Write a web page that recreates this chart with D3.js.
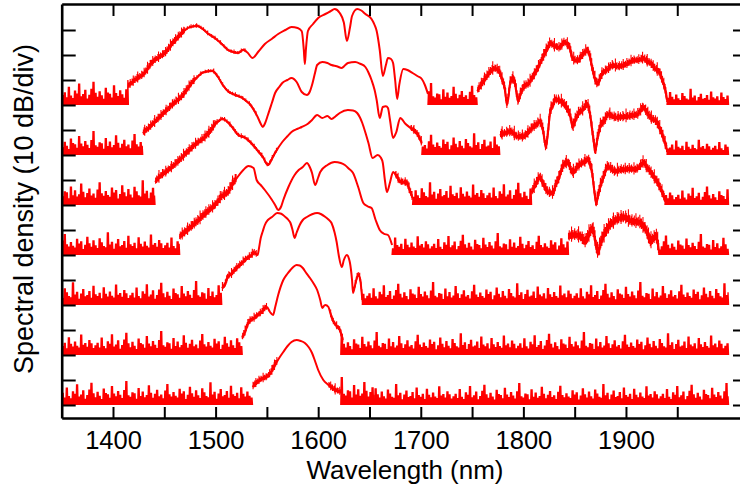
<!DOCTYPE html>
<html><head><meta charset="utf-8">
<script src="https://cdn.jsdelivr.net/npm/d3@7"></script>
<style>
html,body{margin:0;padding:0;background:#fff;}
svg{display:block;font-family:"Liberation Sans",Arial,Helvetica,sans-serif;}
</style></head>
<body>
<svg id="chart" width="740" height="489"></svg>
<script>
// ---------------- data ----------------
const xTicks = [1400,1450,1500,1550,1600,1650,1700,1750,1800,1850,1900,1950];
const xTickLabels = [1400,1500,1600,1700,1800,1900];
const yTicks = [0,10,20,30,40,50,60,70,80,90,100,110,120,130,140,150];
const traceOffsets = [120,100,80,60,40,20,0]; // dB, top to bottom (20 dB stacking)

// measured noise-floor heights (dB above floor), reused along floor regions
const noisePattern = [3.2,4.1,2.5,5.8,3.0,2.2,4.6,3.7,6.9,2.8,3.5,4.9,2.1,3.3,5.2,7.4,3.9,2.6,4.4,3.1,
2.0,5.5,4.0,3.6,2.4,6.3,3.8,2.9,4.7,3.4,2.3,5.0,8.0,3.2,2.7,4.2,3.9,2.1,5.7,3.0,4.5,2.6,3.3,6.6,4.1,
2.4,3.7,5.1,2.9,3.5,2.2,4.8,7.0,3.6,2.8,4.3,3.1,2.5,5.4,3.8,4.6,2.0,3.4,6.1,3.9,2.7,4.9,3.2,2.3,5.6,
4.2,3.0,2.6,7.6,3.5,4.4,2.1,3.8,5.3,2.9,3.3,4.7,2.4,6.4,3.6,3.0,4.1,2.2,5.9,3.7,2.8,4.5,3.1,2.5,6.8,
3.4,4.0,2.7,5.0,3.9,2.3];

// signal segments: [wavelength nm, dB above the trace's floor]
const trace1Signal = [
 [[1415,7.6],[1422,10],[1431,12.8],[1438,16.8],[1445,19],[1451,20.8],[1457,24],[1463,26.8],[1468,29],[1473,30.8],[1478,31.4],[1482,31.6],[1487,30.5],[1493,28.4],[1500,26.5],[1506,24.4],[1512,22],[1517,21.2],[1522,20.8],[1527,22],[1531,21],[1536,18.8],[1542,21.5],[1548,24.4],[1555,26.5],[1561,28.4],[1568,30],[1574,31.2],[1580,30.8],[1584,29.5],[1586,22],[1587,16.4],[1588,22],[1590,29.6],[1595,32.4],[1600,34.8],[1607,36.4],[1612,37.5],[1616,38.4],[1621,36.8],[1625,33],[1628,25.6],[1631,31],[1633,35.6],[1638,38.4],[1642,37.8],[1646,36.4],[1652,34.4],[1655,32],[1657,29.6],[1660,22],[1663,11.6],[1666,16],[1668,18.8],[1671,18.4],[1673,16.8],[1675,10],[1677,2.4],[1679,8],[1683,14.4],[1687,14],[1692,12.8],[1697,11.5],[1701,10.4],[1704,8],[1707,4.4]],
 [[1755,5.6],[1760,8.5],[1767,12.8],[1772,14.4],[1776,13.5],[1779,10.4],[1782,6],[1784,0.4],[1786,5],[1787,8.4],[1790,10.4],[1792,8],[1795,1.6],[1797,4],[1800,6.8],[1805,8.5],[1809,10.8],[1814,14.5],[1819,18.8],[1823,22],[1826,24.4],[1830,23.5],[1835,22.8],[1840,24.8],[1845,22.8],[1848,18.4],[1853,17.6],[1857,19.5],[1862,21.6],[1865,19],[1867,14.8],[1870,10],[1872,8.4],[1877,12.4],[1882,14],[1887,15.6],[1892,15.2],[1897,15.6],[1902,16.5],[1907,17.6],[1912,17.8],[1917,18.4],[1920,17.5],[1924,16.4],[1928,14.5],[1933,12.4],[1936,9],[1938,6.4],[1940,2]]
];
const trace2Signal = [
 [[1429,8.8],[1433,10],[1438,12],[1443,14],[1448,16],[1453,18],[1458,20],[1462,21.5],[1467,23.2],[1472,26],[1477,28.8],[1482,31],[1487,32.8],[1492,33.4],[1497,33.6],[1500,32.5],[1503,30.8],[1507,28],[1512,25.5],[1519,24],[1526,22.8],[1530,21.5],[1534,20],[1538,17.5],[1541,15.2],[1544,12.5],[1546,11.2],[1548,12.5],[1551,16],[1555,21],[1558,24.8],[1562,27.2],[1565,28.8],[1570,30],[1574,30.8],[1579,29.2],[1584,25.2],[1589,24],[1592,25.5],[1594,28],[1597,33],[1599,36],[1604,37.2],[1609,36.8],[1613,36],[1618,35.5],[1623,34.8],[1626,35.8],[1629,36.8],[1636,37.2],[1641,36.5],[1646,35.2],[1649,33],[1652,30],[1655,26],[1657,22],[1660,14.8],[1663,19.2],[1666,19.5],[1668,18.8],[1670,14],[1673,6.8],[1676,9],[1680,14.8],[1685,12.5],[1690,10.8],[1694,9.5],[1697,8],[1701,4.8]],
 [[1777,8],[1782,8.5],[1787,9.2],[1790,8.5],[1794,7.2],[1800,7.2],[1805,9],[1809,10.8],[1813,12],[1816,13.2],[1819,10],[1822,3.2],[1824,9],[1826,16.8],[1829,20],[1831,22],[1835,21.5],[1838,20.8],[1843,18],[1846,15],[1848,11.2],[1850,13],[1853,16],[1858,18],[1862,20],[1865,16],[1867,10],[1869,4],[1870,1.2],[1872,6],[1875,11.2],[1879,13.5],[1883,16],[1887,15.2],[1891,14.8],[1896,15],[1901,15.2],[1906,15.6],[1911,16],[1914,17.5],[1917,18.8],[1920,17],[1924,14.8],[1930,12.8],[1936,7.2],[1940,2]]
];
const trace3Signal = [
 [[1441,9.2],[1448,12],[1453,13.5],[1458,15.2],[1464,17.5],[1470,20],[1475,22],[1480,24],[1485,25.5],[1490,27.2],[1495,29.5],[1499,32],[1503,33.5],[1506,34.4],[1509,34],[1512,33],[1516,31.2],[1522,28],[1529,26.8],[1534,25],[1538,23.2],[1542,21.2],[1546,19.2],[1551,16],[1555,18.5],[1558,20.8],[1565,25.2],[1570,27.5],[1574,29.2],[1580,30.5],[1584,31.2],[1590,32.5],[1594,34],[1599,36],[1604,34.8],[1609,35.6],[1613,34.4],[1617,35.5],[1621,36.8],[1629,38],[1634,37.8],[1638,36.8],[1643,32.8],[1646,29],[1649,24.8],[1653,18.8],[1658,20],[1661,19],[1663,16.8],[1665,10],[1667,5.2],[1670,9],[1673,13.2],[1677,11],[1680,9.2],[1686,8.8],[1689,6],[1692,2.8]],
 [[1808,5],[1812,8],[1816,10.8],[1819,8.5],[1822,6],[1825,4.8],[1829,4.5],[1831,7.2],[1835,11],[1838,14.8],[1843,16.8],[1848,12.8],[1853,15.2],[1860,17.2],[1863,18],[1865,16],[1867,12.8],[1869,6],[1871,0.8],[1873,4],[1875,7.2],[1879,12],[1882,15.2],[1886,14.2],[1889,13.2],[1894,13.8],[1899,14],[1904,14.2],[1909,14],[1913,15],[1917,16.8],[1920,15],[1924,12.8],[1930,9.2],[1935,5.2],[1938,2]]
];
const trace4Signal = [
 [[1465,7.2],[1469,8.5],[1473,10],[1480,12.5],[1487,15.2],[1493,17.5],[1500,20],[1506,23.2],[1512,25],[1517,28.5],[1522,31.5],[1527,34],[1532,35.6],[1537,34.8],[1540,30],[1544,28],[1548,26],[1555,22],[1558,20],[1561,18],[1564,19.5],[1566,22],[1571,27.2],[1577,32],[1581,34],[1585,35.2],[1589,36.8],[1592,35],[1594,32.8],[1597,28],[1600,31],[1602,33.2],[1609,36],[1616,37.2],[1622,36.8],[1626,36],[1630,34.5],[1634,32.8],[1639,27.2],[1644,20.8],[1648,19.5],[1652,18.8],[1656,14],[1660,10],[1664,8.5],[1668,8],[1672,4]],
 [[1844,7.2],[1850,7.8],[1855,7.2],[1858,6],[1860,5.2],[1864,8],[1867,10],[1869,8],[1871,3],[1873,1],[1875,4],[1878,7.2],[1881,9.5],[1885,12],[1888,13],[1891,14],[1895,14.5],[1898,14.8],[1902,14],[1906,13.2],[1910,13],[1913,12.8],[1916,11.5],[1919,10],[1922,7],[1924,5.2],[1927,6.5],[1929,7.2],[1932,2]]
];
const trace5Signal = [
 [[1506,6.8],[1509,8],[1512,11.2],[1516,12.5],[1519,14],[1524,16],[1529,18],[1534,19.5],[1538,20.8],[1541,20],[1542,22],[1544,26.8],[1546,29.5],[1548,32],[1551,34],[1555,35.2],[1560,36.8],[1564,36.5],[1568,35.2],[1571,34],[1573,32.8],[1575,30],[1577,26.8],[1579,29],[1582,32],[1585,34],[1589,35.2],[1594,36.3],[1599,36.8],[1603,36.3],[1607,35.2],[1610,34.2],[1613,32.8],[1616,29],[1618,25.2],[1620,20],[1623,15.2],[1625,18],[1628,20],[1630,18.5],[1631,16.8],[1633,10],[1634,4.8],[1636,8],[1639,12],[1641,10],[1643,2]]
];
const trace6Signal = [
 [[1526,7],[1529,9.5],[1532,12.8],[1538,14.8],[1545,17.2],[1548,18.5],[1550,19.2],[1553,17.2],[1556,16],[1558,19],[1561,24],[1566,30],[1570,32.5],[1573,34],[1576,35.3],[1579,36],[1582,35.8],[1585,34.8],[1588,33],[1592,30.8],[1596,28.3],[1599,26],[1602,22],[1604,18.8],[1606,19.8],[1607,20],[1610,19.2],[1612,16.5],[1614,14],[1618,11.5],[1621,10],[1624,6]]
];
const trace7Signal = [
 [[1536,7.2],[1541,9.2],[1545,10.3],[1550,11.2],[1554,13],[1558,16],[1562,18.8],[1566,21.2],[1570,23.5],[1574,25.2],[1579,26],[1583,25.6],[1587,24.8],[1591,23],[1594,20.8],[1597,17.5],[1600,14],[1605,10],[1610,8],[1616,6],[1622,5.2]]
];
// noise-floor regions: [start nm, end nm, amplitude scale]
const trace1Noise = [[1350,1415,1.25],[1707,1755,1.1],[1940,2000,0.85]];
const trace2Noise = [[1350,1429,1.2],[1701,1777,1.15],[1940,2000,0.9]];
const trace3Noise = [[1350,1441,1.3],[1692,1808,1.2],[1938,2000,1.0]];
const trace4Noise = [[1350,1465,1.2],[1672,1844,1.1],[1932,2000,1.05]];
const trace5Noise = [[1350,1506,1.2],[1643,2000,1.15]];
const trace6Noise = [[1350,1526,1.2],[1622,2000,1.15]];
const trace7Noise = [[1350,1536,1.2],[1622,1655,1.4],[1655,2000,1.1]];
// fuzz on the signal itself: [start nm, end nm, amplitude dB]
const trace1Fuzz = [[1415,1470,1.5],[1470,1530,0.6],[1755,1940,1.7]];
const trace2Fuzz = [[1429,1480,1.5],[1480,1540,0.6],[1690,1701,1.2],[1777,1940,1.8]];
const trace3Fuzz = [[1441,1500,1.6],[1500,1560,0.7],[1675,1692,1.4],[1808,1938,1.8]];
const trace4Fuzz = [[1465,1520,1.8],[1844,1932,2.3]];
const trace5Fuzz = [[1506,1540,1.3],[1636,1643,1.0]];
const trace6Fuzz = [[1526,1550,1.3],[1612,1624,1.0]];
const trace7Fuzz = [[1536,1560,1.4],[1610,1622,1.4]];

const signals = [trace1Signal,trace2Signal,trace3Signal,trace4Signal,trace5Signal,trace6Signal,trace7Signal];
const noises  = [trace1Noise,trace2Noise,trace3Noise,trace4Noise,trace5Noise,trace6Noise,trace7Noise];
const fuzzes  = [trace1Fuzz,trace2Fuzz,trace3Fuzz,trace4Fuzz,trace5Fuzz,trace6Fuzz,trace7Fuzz];

// ---------------- drawing ----------------
const svg = d3.select("#chart");
const x = d3.scaleLinear().domain([1350,2017]).range([61.7,746]);
const y = d3.scaleLinear().domain([-5.2,160.4]).range([418,4]);
const RED = "#ff0000";

const line = d3.line().x(d=>x(d[0])).y(d=>y(d[1])).curve(d3.curveMonotoneX);
const rawLine = d3.line().x(d=>x(d[0])).y(d=>y(d[1]));
const g = svg.append("g");

signals.forEach((segs,ti)=>{
  const off = traceOffsets[ti];
  // noise floor
  noises[ti].forEach((r,ri)=>{
    const pts=[];
    let k=0, idx = ti*17 + ri*31;
    for(let w=r[0]; w<=r[1]+1e-9; w+=0.5, k++){
      const v = (k%2===0) ? 0 : noisePattern[(idx + Math.floor(k/4)) % noisePattern.length]*r[2];
      pts.push([w, off+v]);
    }
    g.append("path").attr("d",rawLine(pts)).attr("fill","none")
      .attr("stroke",RED).attr("stroke-width",1.3).attr("stroke-linejoin","miter");
  });
  // signal
  segs.forEach(seg=>{
    const p = g.append("path").datum(seg.map(d=>[d[0],d[1]+off]))
      .attr("d",line).attr("fill","none").attr("stroke",RED)
      .attr("stroke-width",2).attr("stroke-linejoin","round");
    const node = p.node(), total = node.getTotalLength();
    let dstr = "", j = ti*13;
    for(let l=0; l<=total; l+=0.8){
      const pt = node.getPointAtLength(l);
      const w = x.invert(pt.x);
      const f = fuzzes[ti].find(r=>w>=r[0]&&w<=r[1]);
      if(!f) continue;
      const a = noisePattern[(j++) % noisePattern.length]/4*f[2]*2.5;
      dstr += `M${pt.x.toFixed(2)},${(pt.y-a).toFixed(2)}V${(pt.y+a*0.6).toFixed(2)}`;
    }
    if(dstr) g.append("path").attr("d",dstr).attr("stroke",RED).attr("stroke-width",1.1).attr("fill","none");
  });
});

// axes
const axG = svg.append("g");
const styleAxis = sel=>{
  sel.select(".domain").attr("stroke","#000").attr("stroke-width",2.6);
  sel.selectAll(".tick line").attr("stroke","#000").attr("stroke-width",2);
};
axG.append("g").attr("transform","translate(0,4)")
  .call(d3.axisBottom(x).tickValues(xTicks).tickSize(12).tickSizeOuter(0).tickFormat(""))
  .call(styleAxis);
const bottom = axG.append("g").attr("transform","translate(0,418)")
  .call(d3.axisBottom(x).tickValues(xTicks).tickSize(-11).tickSizeOuter(0)
    .tickFormat(d=> xTickLabels.includes(d) ? d : ""))
  .call(styleAxis);
bottom.selectAll(".tick text").attr("y",31).attr("dy",0)
  .attr("font-size",25.5).attr("font-family","Liberation Sans, Arial, sans-serif").attr("fill","#000");
axG.append("g").attr("transform","translate(61.7,0)")
  .call(d3.axisRight(y).tickValues(yTicks).tickSize(14).tickSizeOuter(0).tickFormat(""))
  .call(styleAxis);
axG.append("g").attr("transform","translate(747,0)")
  .call(d3.axisLeft(y).tickValues(yTicks).tickSize(14).tickSizeOuter(0).tickFormat(""))
  .call(styleAxis);

svg.append("text").attr("x",405).attr("y",479).attr("text-anchor","middle")
  .attr("font-size",26).attr("fill","#000").text("Wavelength (nm)");
svg.append("text").attr("transform","translate(33,209) rotate(-90)").attr("text-anchor","middle")
  .attr("font-size",27).attr("fill","#000").text("Spectral density (10 dB/div)");
</script>
</body></html>
